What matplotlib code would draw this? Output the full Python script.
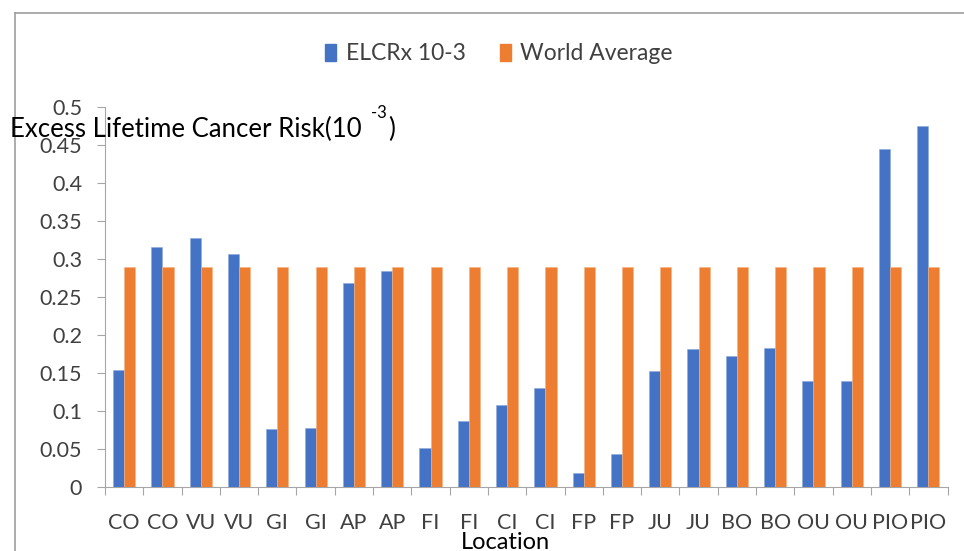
import numpy as np
import matplotlib.pyplot as plt
from matplotlib.lines import Line2D
from matplotlib.patches import Patch

plt.rcParams['font.family'] = ['Lato', 'DejaVu Sans']

locations = ['CO', 'CO', 'VU', 'VU', 'GI', 'GI', 'AP', 'AP', 'FI', 'FI', 'CI',
             'CI', 'FP', 'FP', 'JU', 'JU', 'BO', 'BO', 'OU', 'OU', 'PIO', 'PIO']
elcr = [0.154, 0.316, 0.328, 0.307, 0.076, 0.078, 0.269, 0.284, 0.051, 0.087, 0.108,
        0.130, 0.019, 0.044, 0.152, 0.181, 0.173, 0.183, 0.140, 0.139, 0.445, 0.475]
world_avg = [0.29] * len(locations)

blue = '#4472C4'
orange = '#ED7D31'
axis_grey = '#A6A6A6'
text_grey = '#404040'

fig = plt.figure(figsize=(9.64, 5.51), dpi=100)
ax = fig.add_axes([105 / 964, 64 / 551, 842.5 / 964, 380 / 551])

x = np.arange(len(locations))
w = 0.29
ax.bar(x - w / 2, elcr, w, color=blue, edgecolor='#8FAADC', linewidth=0.4)
ax.bar(x + w / 2, world_avg, w, color=orange, edgecolor='#F4B183', linewidth=0.4)

ax.set_xlim(-0.5, len(locations) - 0.5)
ax.set_ylim(0, 0.5)
ax.set_yticks(np.arange(0, 0.51, 0.05))
ax.set_yticklabels(['0', '0.05', '0.1', '0.15', '0.2', '0.25', '0.3', '0.35',
                    '0.4', '0.45', '0.5'])
ax.tick_params(axis='y', length=5.5, width=0.8, color=axis_grey, pad=11,
               labelsize=15.5, labelcolor=text_grey)

# labels sit in the middle of each category, ticks on the boundaries
ax.set_xticks(x)
ax.set_xticklabels(locations)
ax.tick_params(axis='x', which='major', length=0, pad=19, labelsize=15.5,
               labelcolor=text_grey)
ax.set_xticks(np.arange(-0.5, len(locations)), minor=True)
ax.tick_params(axis='x', which='minor', length=6, width=0.8, color=axis_grey)

for side in ['top', 'right']:
    ax.spines[side].set_visible(False)
for side in ['left', 'bottom']:
    ax.spines[side].set_color(axis_grey)
    ax.spines[side].set_linewidth(0.8)

ax.set_xlabel('Location', fontsize=17, color='black')
ax.xaxis.set_label_coords(0.475, -0.118)

# y title written out in three pieces so the "-3" stays a plain hyphen
t1 = fig.text(10 / 964, 1 - 137 / 551, 'Excess Lifetime Cancer Risk(10',
              fontsize=18.5, va='baseline', ha='left', color='black')
t2 = ax.annotate('-3', xy=(1, 1), xycoords=t1, xytext=(7, 3),
                 textcoords='offset points', fontsize=12, ha='left', va='center',
                 color='black', annotation_clip=False)
ax.annotate(')', xy=(1, 0), xycoords=(t2, t1), xytext=(1, 0),
            textcoords='offset points', fontsize=18.5, ha='left', va='bottom',
            color='black', annotation_clip=False)

handles = [Patch(color=blue), Patch(color=orange)]
fig.legend(handles, ['ELCRx 10-3', 'World Average'], loc='center',
           bbox_to_anchor=(499 / 964, 1 - 54 / 551), ncol=2, frameon=False,
           fontsize=16.5, handlelength=0.5, handleheight=0.7,
           handletextpad=0.4, columnspacing=1.5, labelcolor=text_grey)

# outer chart frame, runs off the bottom and right edges
fig.add_artist(Line2D([15 / 964, 15 / 964], [0, 1 - 13 / 551],
                      transform=fig.transFigure, color='#9E9E9E', lw=1.2))
fig.add_artist(Line2D([15 / 964, 1], [1 - 13 / 551, 1 - 13 / 551],
                      transform=fig.transFigure, color='#9E9E9E', lw=1.2))

fig.savefig('out.png', dpi=100)
